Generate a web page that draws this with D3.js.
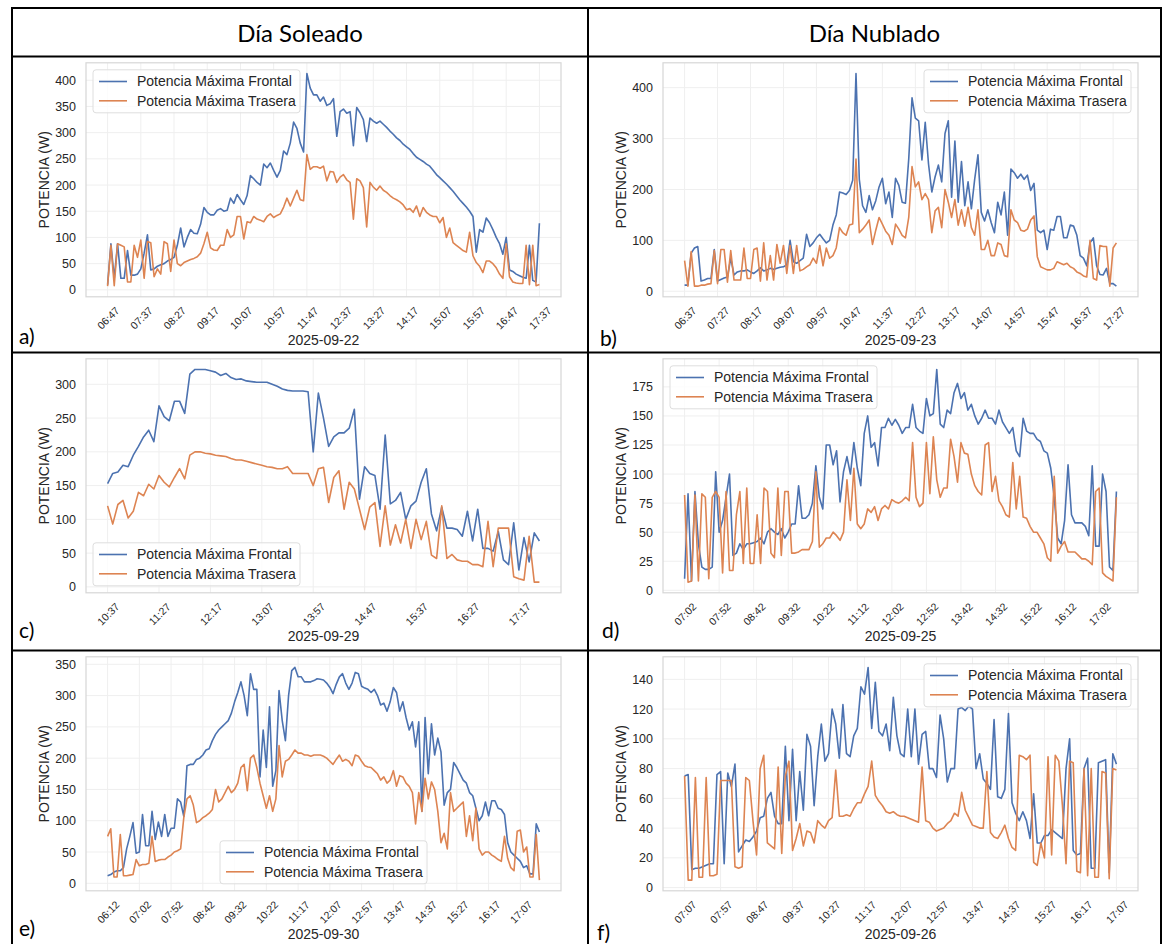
<!DOCTYPE html>
<html>
<head>
<meta charset="utf-8">
<script src="https://cdn.jsdelivr.net/npm/d3@7"></script>
<style>
  html, body { margin: 0; padding: 0; background: #fff; }
  svg { display: block; }
</style>
</head>
<body>
<svg id="chart" width="1167" height="944"></svg>
<script>
// Potencia máxima frontal / trasera, 6 días (soleado vs nublado), muestras cada 5 min.

const seriesNames = ['Potencia Máxima Frontal', 'Potencia Máxima Trasera'];
const colHeaders = ['Día Soleado', 'Día Nublado'];

// a) 2025-09-22
const frontA = [10,88,22,88,22,22,75,28,28,30, 40,70,105,38,40,45,48,50,55,58, 62,85,118,82,100,115,108,107,125,157,
  148,143,143,152,155,150,152,175,165,182, 172,163,180,218,212,205,200,240,233,242, 228,215,228,265,258,280,320,308,280,263,
  413,385,372,372,360,368,352,355,365,293, 340,345,337,340,275,348,338,325,283,328, 322,318,322,316,310,303,297,290,285,278,
  273,268,260,253,249,245,240,236,228,220, 214,208,202,195,188,180,172,165,158,150, 140,72,115,110,137,128,115,100,88,68,
  100,38,35,30,27,24,22,85,18,15, 127];
const backA = [7,85,8,88,85,82,15,15,85,62, 95,22,92,90,25,40,30,92,88,35, 95,50,46,52,55,58,60,63,70,88,
  110,80,76,75,85,85,115,100,105,140, 140,97,130,128,140,135,133,130,140,145, 138,142,145,158,175,160,175,190,172,170,
  258,230,235,235,232,236,208,226,225,205, 215,220,210,205,135,212,208,195,120,205, 196,190,198,190,186,180,175,172,168,162,
  153,155,148,160,140,157,148,143,140,140, 128,138,100,118,90,85,80,75,72,110, 65,52,45,33,55,55,50,42,30,22,
  88,25,15,13,12,12,85,10,85,8, 10];
const ticksA = ['06:47','07:37','08:27','09:17','10:07','10:57','11:47','12:37','13:27','14:17','15:07','15:57','16:47','17:37'];
const yTicksA = [0,50,100,150,200,250,300,350,400];

// b) 2025-09-23
const frontB = [12,12,75,85,88,20,22,25,25,82, 20,23,26,28,65,32,38,40,40,42, 38,35,40,46,40,42,45,43,45,47,
  48,52,100,58,55,60,65,112,88,95, 105,112,103,95,100,130,150,195,193,190, 198,218,428,220,168,155,188,160,178,205,
  222,172,195,145,222,208,175,173,260,380, 340,335,258,332,250,195,225,248,215,310, 335,185,295,175,255,168,215,162,220,268,
  155,138,160,135,115,175,150,195,110,240, 233,222,230,220,228,198,212,120,115,120, 82,122,120,147,147,105,105,130,128,110,
  70,65,50,95,105,50,33,32,45,15, 15,10];
const backB = [60,10,78,10,10,12,12,14,15,80, 15,82,82,18,80,22,22,22,85,25, 25,82,85,20,95,22,70,22,92,55,
  90,35,90,35,90,40,43,48,52,65, 55,90,50,85,65,70,85,125,115,110, 130,132,260,115,122,130,140,92,120,145,
  132,118,110,92,132,122,110,105,145,245, 205,215,180,192,180,115,158,165,125,200, 175,145,180,130,160,128,165,125,110,160,
  82,82,100,70,70,95,92,70,68,160, 140,135,120,118,122,140,148,68,48,45, 42,42,45,58,55,52,55,48,45,38,
  35,30,28,100,25,22,90,88,88,10, 85,95];
const ticksB = ['06:37','07:27','08:17','09:07','09:57','10:47','11:37','12:27','13:17','14:07','14:57','15:47','16:37','17:27'];
const yTicksB = [0,100,200,300,400];

// c) 2025-09-29
const frontC = [153,168,170,180,178,195,208,222,232,215, 268,252,246,275,275,257,315,322,322,322,
  320,318,313,316,310,307,308,305,304,303, 303,303,300,297,293,291,290,290,290,289,
  200,287,250,208,222,228,228,235,263,130, 178,168,165,115,225,123,128,140,100,120,
  127,155,175,108,83,118,87,87,85,75, 112,68,115,57,57,53,82,40,33,95, 25,73,37,80,68];
const backC = [120,93,122,128,102,112,140,135,152,145, 165,155,148,162,175,160,195,200,200,198,
  197,195,194,193,190,188,188,186,184,182, 180,178,177,175,175,178,168,168,168,168,
  150,175,177,125,162,172,115,155,145,115, 85,118,125,60,120,62,92,65,100,57,
  100,70,97,47,42,120,42,48,40,38, 38,33,33,30,97,30,87,87,87,15, 12,10,75,7,7];
const ticksC = ['10:37','11:27','12:17','13:07','13:57','14:47','15:37','16:27','17:17'];
const yTicksC = [0,50,100,150,200,250,300];

// d) 2025-09-25
const frontD = [10,83,8,85,40,20,18,18,20,102, 50,60,80,100,30,32,40,35,40,40, 41,42,45,40,50,53,50,48,53,45,
  50,57,57,90,62,62,65,75,107,80, 70,125,125,108,120,76,102,115,100,127, 105,90,135,150,123,127,107,140,140,148,
  142,147,142,135,140,140,160,140,137,135, 165,150,152,190,143,140,155,152,170,178, 165,170,155,160,150,143,148,155,148,148,
  143,155,145,140,135,140,120,115,148,137, 135,135,130,128,120,118,105,80,45,40, 60,108,65,58,58,58,55,47,107,38,
  38,100,85,20,17,85];
const backD = [82,7,8,82,8,83,80,10,80,85, 80,15,85,17,17,65,85,23,88,23, 23,65,23,88,85,32,28,88,30,85,
  85,32,32,33,35,35,35,42,102,37, 40,45,45,50,47,43,50,95,60,105, 57,53,57,70,67,72,60,70,73,70,
  78,76,75,77,80,77,127,80,72,75, 127,83,132,95,80,88,88,130,115,93, 127,118,117,100,90,85,82,125,127,85,
  98,77,72,65,63,110,70,98,63,62, 55,50,50,45,40,28,25,98,32,38, 42,33,33,33,30,27,27,25,22,85,
  88,15,12,10,8,80];
const ticksD = ['07:02','07:52','08:42','09:32','10:22','11:12','12:02','12:52','13:42','14:32','15:22','16:12','17:02'];
const yTicksD = [0,25,50,75,100,125,150,175];

// e) 2025-09-30
const frontE = [12,14,18,20,20,25,55,75,97,48, 50,110,60,60,115,70,98,75,110,75, 88,88,135,130,107,188,190,190,198,200,
  205,213,215,228,238,245,250,255,260,272, 290,305,322,300,268,335,310,310,170,245, 185,282,155,180,308,260,228,300,340,345,
  330,330,322,322,322,324,327,326,325,320, 313,303,318,330,335,320,310,320,337,335, 315,312,310,305,310,300,285,288,275,290,
  313,305,275,290,265,245,258,218,258,115, 265,175,255,205,232,210,125,145,150,193, 185,175,165,160,145,140,120,100,108,130,
  108,132,132,120,118,110,65,50,45,40, 35,25,28,15,15,95,82];
const backE = [75,87,10,10,78,12,12,13,14,38, 28,30,30,32,75,35,37,38,38,42, 45,50,52,55,105,135,140,125,97,100,
  105,108,112,118,150,130,135,145,155,145, 150,160,185,190,148,200,205,185,160,140, 120,140,115,135,220,170,195,198,205,213,
  208,208,205,205,203,205,205,205,203,200, 195,190,198,205,195,198,195,188,205,203, 195,188,186,185,180,175,165,170,160,165,
  180,155,172,170,160,155,145,95,145,115, 168,135,162,150,115,65,80,55,145,115, 120,125,130,75,108,68,120,55,45,50,
  50,45,42,38,35,75,40,25,20,83, 85,50,58,10,10,78,5];
const ticksE = ['06:12','07:02','07:52','08:42','09:32','10:22','11:17','12:07','12:57','13:47','14:37','15:27','16:17','17:07'];
const yTicksE = [0,50,100,150,200,250,300,350];

// f) 2025-09-26
const frontF = [75,76,12,13,13,14,15,16,16,76, 78,16,77,68,83,24,28,32,31,34, 38,47,48,60,64,48,43,43,95,45,
  93,45,78,52,103,95,55,88,110,85, 90,120,110,87,123,90,88,102,107,135, 130,148,107,138,105,102,110,92,128,102,
  90,88,120,88,120,83,103,105,80,80, 74,116,100,71,80,80,120,121,119,122, 120,80,90,73,70,66,113,61,60,66,
  117,57,50,45,51,45,33,63,30,30, 35,35,39,37,35,33,80,100,25,22, 23,80,87,13,13,84,85,86,10,90, 83];
const backF = [75,5,5,74,7,7,74,8,8,9, 72,72,72,72,14,13,14,74,72,45, 22,80,89,30,28,26,81,23,75,85,
  25,33,43,28,38,37,30,45,42,40, 45,47,79,48,48,49,48,53,57,57, 63,68,85,62,58,55,51,50,51,49,
  48,48,47,46,45,44,81,45,44,40, 38,39,40,43,45,50,48,64,52,47, 42,41,40,40,78,37,34,33,37,42,
  33,27,25,89,88,86,89,17,15,30, 20,88,22,89,85,55,16,85,84,11, 10,80,8,80,7,7,78,77,6,80, 79];
const ticksF = ['07:07','07:57','08:47','09:37','10:27','11:17','12:07','12:57','13:47','14:37','15:27','16:17','17:07'];
const yTicksF = [0,20,40,60,80,100,120,140];

const panels = [
    { tag: 'a)', date: '2025-09-22', front: frontA, back: backA, ticks: ticksA, yTicks: yTicksA, legend: 'ul', col: 0, row: 0, tagPos: [19, 344] },
    { tag: 'b)', date: '2025-09-23', front: frontB, back: backB, ticks: ticksB, yTicks: yTicksB, legend: 'ur', col: 1, row: 0, tagPos: [600, 346] },
    { tag: 'c)', date: '2025-09-29', front: frontC, back: backC, ticks: ticksC, yTicks: yTicksC, legend: 'll', col: 0, row: 1, tagPos: [19, 638] },
    { tag: 'd)', date: '2025-09-25', front: frontD, back: backD, ticks: ticksD, yTicks: yTicksD, legend: 'ul', col: 1, row: 1, tagPos: [602, 638] },
    { tag: 'e)', date: '2025-09-30', front: frontE, back: backE, ticks: ticksE, yTicks: yTicksE, legend: 'lc', col: 0, row: 2, tagPos: [19, 936] },
    { tag: 'f)', date: '2025-09-26', front: frontF, back: backF, ticks: ticksF, yTicks: yTicksF, legend: 'ur', col: 1, row: 2, tagPos: [597, 940] }
];

const colors = ['#4c72b0', '#dd8452'];
const svg = d3.select('#chart');
const W = 1167, H = 944;

// table layout
const tableX = [12, 588, 1161];
const tableY = [8, 56.5, 352.5, 650.5];
const frameLeft = [86, 663];
const frameW = 475, frameH = 234, frameTopOff = 6.3;

const sans = '"Liberation Sans", Arial, sans-serif';
const docFont = 'Lato, "Open Sans", sans-serif';

panels.forEach(p => {
    const x0 = frameLeft[p.col], x1 = x0 + frameW;
    const top = tableY[p.row + 1] + frameTopOff, bottom = top + frameH;
    const n = p.front.length - 1;

    const x = d3.scaleLinear().domain([-0.05 * n, 1.05 * n]).range([x0, x1]);
    const ext = d3.extent(p.front.concat(p.back));
    const pad = 0.05 * (ext[1] - ext[0]);
    const y = d3.scaleLinear().domain([ext[0] - pad, ext[1] + pad]).range([bottom, top]);

    const g = svg.append('g');
    const tickIdx = p.ticks.map((_, i) => i * 10);

    // grid
    g.append('g').selectAll('line.v').data(tickIdx).join('line')
        .attr('x1', d => x(d)).attr('x2', d => x(d)).attr('y1', top).attr('y2', bottom)
        .attr('stroke', '#efefef').attr('stroke-width', 1);
    g.append('g').selectAll('line.h').data(p.yTicks).join('line')
        .attr('x1', x0).attr('x2', x1).attr('y1', d => y(d)).attr('y2', d => y(d))
        .attr('stroke', '#efefef').attr('stroke-width', 1);

    // y axis
    const ya = g.append('g').attr('transform', `translate(${x0},0)`)
        .call(d3.axisLeft(y).tickValues(p.yTicks).tickSize(0).tickPadding(10));
    ya.select('.domain').remove();
    ya.selectAll('text').attr('font-family', sans).attr('font-size', 12.5).attr('fill', '#262626');

    // x axis, rotated labels centred on tick
    const xa = g.append('g').attr('transform', `translate(0,${bottom})`)
        .call(d3.axisBottom(x).tickValues(tickIdx).tickFormat(d => p.ticks[d / 10]).tickSize(0));
    xa.select('.domain').remove();
    xa.selectAll('text')
        .attr('y', 0).attr('dy', null)
        .attr('dominant-baseline', 'central')
        .attr('text-anchor', 'middle')
        .attr('transform', 'translate(0,21) rotate(-45)')
        .attr('font-family', sans).attr('font-size', 10.5).attr('fill', '#262626');

    // frame
    g.append('rect').attr('x', x0).attr('y', top).attr('width', frameW).attr('height', frameH)
        .attr('fill', 'none').attr('stroke', '#d6d6d6').attr('stroke-width', 1.2);

    // lines
    const line = d3.line().x((d, i) => x(i)).y(d => y(d));
    [p.front, p.back].forEach((s, k) => {
        g.append('path').datum(s).attr('d', line)
            .attr('fill', 'none').attr('stroke', colors[k]).attr('stroke-width', 1.6)
            .attr('stroke-linejoin', 'round');
    });

    // axis labels
    g.append('text').attr('x', (x0 + x1) / 2).attr('y', bottom + 48)
        .attr('text-anchor', 'middle').attr('font-family', sans).attr('font-size', 14)
        .attr('fill', '#262626').text(p.date);
    g.append('text').attr('transform', `translate(${x0 - 42},${(top + bottom) / 2}) rotate(-90)`)
        .attr('text-anchor', 'middle').attr('dy', '0.35em')
        .attr('font-family', sans).attr('font-size', 14).attr('fill', '#262626').text('POTENCIA (W)');

    // legend
    const lw = 207, lh = 43, m = 7;
    let lx, ly;
    if (p.legend === 'ul') { lx = x0 + m; ly = top + m; }
    else if (p.legend === 'ur') { lx = x1 - m - lw; ly = top + m; }
    else if (p.legend === 'll') { lx = x0 + m; ly = bottom - m - lh; }
    else { lx = (x0 + x1) / 2 - lw / 2; ly = bottom - m - lh; }
    const lg = g.append('g').attr('transform', `translate(${lx},${ly})`);
    lg.append('rect').attr('width', lw).attr('height', lh).attr('rx', 3)
        .attr('fill', '#fff').attr('fill-opacity', 0.8).attr('stroke', '#dedede').attr('stroke-width', 1);
    seriesNames.forEach((name, k) => {
        const yy = 11.7 + k * 19.3;
        lg.append('line').attr('x1', 6).attr('x2', 34).attr('y1', yy).attr('y2', yy)
            .attr('stroke', colors[k]).attr('stroke-width', 1.6);
        lg.append('text').attr('x', 44).attr('y', yy).attr('dy', '0.35em')
            .attr('font-family', sans).attr('font-size', 14).attr('fill', '#262626').text(name);
    });

    // panel tag
    svg.append('text').attr('x', p.tagPos[0]).attr('y', p.tagPos[1])
        .attr('font-family', docFont).attr('font-size', 21).attr('fill', '#000').text(p.tag);
});

// table borders
const borders = svg.append('g').attr('stroke', '#000').attr('stroke-width', 2);
tableY.forEach(yy => borders.append('line').attr('x1', tableX[0] - 1).attr('x2', tableX[2] + 1).attr('y1', yy).attr('y2', yy));
tableX.forEach(xx => borders.append('line').attr('x1', xx).attr('x2', xx).attr('y1', tableY[0]).attr('y2', H));

// column headers
colHeaders.forEach((h, i) => {
    svg.append('text').attr('x', (tableX[i] + tableX[i + 1]) / 2).attr('y', 42)
        .attr('text-anchor', 'middle').attr('font-family', docFont).attr('font-size', 24)
        .attr('fill', '#000').text(h);
});
</script>
</body>
</html>
